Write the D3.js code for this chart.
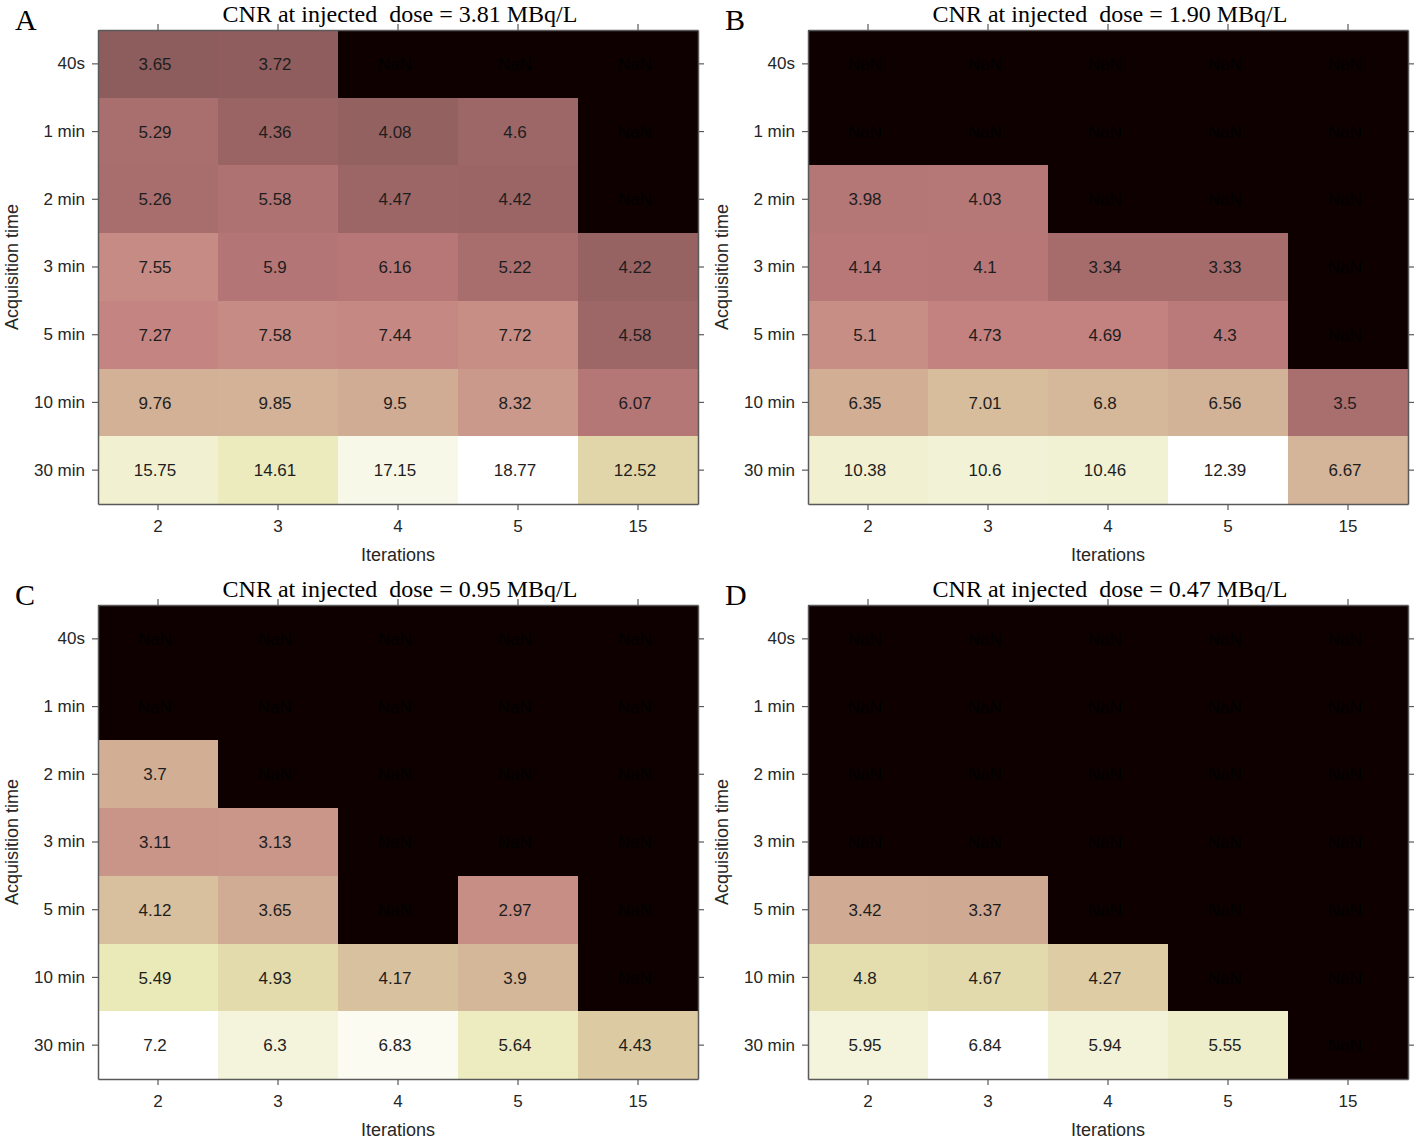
<!DOCTYPE html>
<html><head><meta charset="utf-8">
<script src="https://cdn.jsdelivr.net/npm/d3@7"></script>
<style>body{margin:0;background:#fff}</style>
</head><body>
<svg id="chart" width="1416" height="1140"></svg>
<script>
const iterations = ["2", "3", "4", "5", "15"];
const acqTimes = ["40s", "1 min", "2 min", "3 min", "5 min", "10 min", "30 min"];
const panelLetters = ["A", "B", "C", "D"];
const doses = ["3.81", "1.90", "0.95", "0.47"];
const N = null;
const cnrA = [
  [3.65, 3.72, N, N, N],
  [5.29, 4.36, 4.08, 4.6, N],
  [5.26, 5.58, 4.47, 4.42, N],
  [7.55, 5.9, 6.16, 5.22, 4.22],
  [7.27, 7.58, 7.44, 7.72, 4.58],
  [9.76, 9.85, 9.5, 8.32, 6.07],
  [15.75, 14.61, 17.15, 18.77, 12.52]
];
const cnrB = [
  [N, N, N, N, N],
  [N, N, N, N, N],
  [3.98, 4.03, N, N, N],
  [4.14, 4.1, 3.34, 3.33, N],
  [5.1, 4.73, 4.69, 4.3, N],
  [6.35, 7.01, 6.8, 6.56, 3.5],
  [10.38, 10.6, 10.46, 12.39, 6.67]
];
const cnrC = [
  [N, N, N, N, N],
  [N, N, N, N, N],
  [3.7, N, N, N, N],
  [3.11, 3.13, N, N, N],
  [4.12, 3.65, N, 2.97, N],
  [5.49, 4.93, 4.17, 3.9, N],
  [7.2, 6.3, 6.83, 5.64, 4.43]
];
const cnrD = [
  [N, N, N, N, N],
  [N, N, N, N, N],
  [N, N, N, N, N],
  [N, N, N, N, N],
  [3.42, 3.37, N, N, N],
  [4.8, 4.67, 4.27, N, N],
  [5.95, 6.84, 5.94, 5.55, N]
];
const panelData = [cnrA, cnrB, cnrC, cnrD];

// MATLAB "pink" colormap (256 levels)
function pink(t) {
  const k = Math.round(Math.max(0, Math.min(1, t)) * 255);
  const g = k / 255;
  const hr = Math.min(1, (k + 1) / 96);
  const hg = Math.max(0, Math.min(1, (k + 1 - 96) / 96));
  const hb = Math.max(0, Math.min(1, (k + 1 - 192) / 64));
  return d3.rgb(255 * Math.sqrt((2 * g + hr) / 3), 255 * Math.sqrt((2 * g + hg) / 3), 255 * Math.sqrt((2 * g + hb) / 3)).toString();
}

const svg = d3.select("#chart");
svg.append("rect").attr("width", 1416).attr("height", 1140).attr("fill", "#fff");

const W = 600, H = 474;
const origins = [[98, 30], [808, 30], [98, 605], [808, 605]];
const axisColor = "#5a5a5a";
const labelFont = "'Liberation Sans', Arial, sans-serif";
const serif = "'Liberation Serif', 'Times New Roman', serif";

panelData.forEach((data, p) => {
  const [ox, oy] = origins[p];
  const g = svg.append("g").attr("transform", `translate(${ox},${oy})`);
  const x = d3.scaleBand().domain(iterations).range([0, W]);
  const y = d3.scaleBand().domain(acqTimes).range([0, H]);
  const maxV = d3.max(data.flat().filter(v => v !== null));
  const color = d3.scaleSequential(pink).domain([0, maxV]);

  const cells = [];
  data.forEach((row, r) => row.forEach((v, c) => cells.push({ t: acqTimes[r], it: iterations[c], v })));

  g.selectAll("rect.cell").data(cells).join("rect")
    .attr("class", "cell")
    .attr("shape-rendering", "crispEdges")
    .attr("x", d => Math.round(x(d.it))).attr("y", d => Math.round(y(d.t)))
    .attr("width", d => Math.round(x(d.it) + x.bandwidth()) - Math.round(x(d.it)))
    .attr("height", d => Math.round(y(d.t) + y.bandwidth()) - Math.round(y(d.t)))
    .attr("fill", d => d.v === null ? pink(0) : color(d.v));

  g.selectAll("text.val").data(cells).join("text")
    .attr("class", "val")
    .attr("x", d => x(d.it) + x.bandwidth() / 2 - 3)
    .attr("y", d => y(d.t) + y.bandwidth() / 2)
    .attr("dy", "0.36em")
    .attr("text-anchor", "middle")
    .attr("font-family", labelFont)
    .attr("font-size", 17)
    .attr("fill", d => d.v === null ? "#000" : "#1e1e1e")
    .text(d => d.v === null ? "NaN" : String(d.v));

  const styleAxis = (sel) => {
    sel.select(".domain").attr("stroke", axisColor).attr("stroke-width", 1.5);
    sel.selectAll(".tick line").attr("stroke", axisColor).attr("stroke-width", 1.2);
    sel.selectAll(".tick text").attr("font-family", labelFont).attr("font-size", 17).attr("fill", "#262626");
  };

  g.append("g").attr("transform", `translate(0,${H})`)
    .call(d3.axisBottom(x).tickSize(6).tickPadding(10).tickSizeOuter(0)).call(styleAxis);
  g.append("g")
    .call(d3.axisTop(x).tickSize(6).tickFormat("").tickSizeOuter(0)).call(styleAxis);
  g.append("g")
    .call(d3.axisLeft(y).tickSize(6).tickPadding(7).tickSizeOuter(0)).call(styleAxis);
  g.append("g").attr("transform", `translate(${W},0)`)
    .call(d3.axisRight(y).tickSize(6).tickFormat("").tickSizeOuter(0)).call(styleAxis);

  g.append("text")
    .attr("x", W / 2).attr("y", H + 57)
    .attr("text-anchor", "middle")
    .attr("font-family", labelFont).attr("font-size", 18).attr("fill", "#262626")
    .text("Iterations");

  g.append("text")
    .attr("transform", `translate(${-80},${H / 2}) rotate(-90)`)
    .attr("text-anchor", "middle")
    .attr("font-family", labelFont).attr("font-size", 18).attr("fill", "#262626")
    .text("Acquisition time");

  g.append("text")
    .attr("x", W / 2 + 2).attr("y", -8)
    .attr("text-anchor", "middle")
    .attr("font-family", serif).attr("font-size", 24).attr("fill", "#000")
    .attr("xml:space", "preserve")
    .style("white-space", "pre")
    .text(`CNR at injected  dose = ${doses[p]} MBq/L`);

  g.append("text")
    .attr("x", -83).attr("y", 0)
    .attr("font-family", serif).attr("font-size", 30).attr("fill", "#000")
    .text(panelLetters[p]);
});
</script>
</body></html>
